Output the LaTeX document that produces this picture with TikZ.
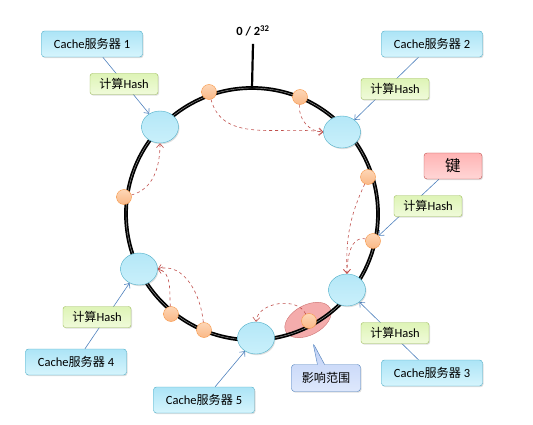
\documentclass[tikz,border=0pt]{standalone}
\usepackage{fontspec}
\setmainfont{Carlito}
\newfontfamily\cjk[Scale=0.97]{Noto Sans CJK SC}
\usetikzlibrary{arrows.meta, shapes.geometric, shapes.callouts, shadows, backgrounds}

\definecolor{cacheline}{RGB}{75,172,198}
\definecolor{cachetop}{RGB}{172,228,246}
\definecolor{cachebot}{RGB}{214,245,253}
\definecolor{hashline}{RGB}{155,187,89}
\definecolor{hashtop}{RGB}{222,244,182}
\definecolor{hashbot}{RGB}{240,251,218}
\definecolor{keyline}{RGB}{192,80,77}
\definecolor{keytop}{RGB}{255,180,180}
\definecolor{keybot}{RGB}{255,214,214}
\definecolor{rangefill}{RGB}{244,172,172}
\definecolor{dotline}{RGB}{247,150,70}
\definecolor{dottop}{RGB}{253,214,182}
\definecolor{dotbot}{RGB}{250,184,134}
\definecolor{linkblue}{RGB}{79,129,189}
\definecolor{moved}{RGB}{192,80,77}
\definecolor{notetop}{RGB}{190,208,246}
\definecolor{notebot}{RGB}{222,232,252}

\begin{document}
\begin{tikzpicture}[x=1pt, y=1pt,
        font=\fontsize{12.5}{14}\selectfont,
        shade/.style={drop shadow={shadow xshift=1pt, shadow yshift=-1.2pt, opacity=0.25}},
        cache/.style={rectangle, rounded corners=3pt, draw=cacheline, top color=cachetop, bottom color=cachebot, minimum width=101pt, minimum height=26pt, inner sep=1pt, shade},
        hash/.style={rectangle, rounded corners=2.5pt, draw=hashline, top color=hashtop, bottom color=hashbot, minimum width=68pt, minimum height=21pt, inner sep=1pt, shade},
        keybox/.style={rectangle, rounded corners=3pt, draw=keyline, top color=keytop, bottom color=keybot, minimum width=58pt, minimum height=26pt, inner sep=1pt, font=\fontsize{16}{18}\selectfont, shade},
        server/.style={ellipse, draw=cacheline, top color=cachetop!80!cachebot, bottom color=cachebot!70!cachetop, minimum width=37pt, minimum height=32pt, inner sep=0pt, shade},
        point/.style={circle, draw=dotline, top color=dottop, bottom color=dotbot, minimum size=15pt, inner sep=0pt},
        link/.style={draw=linkblue, line width=0.6pt, -{Straight Barb[length=4pt, width=7pt]}},
        remap/.style={draw=moved, dashed, line width=0.6pt, -{Straight Barb[length=4pt, width=7pt]}}
    ]
    \useasboundingbox (0,0) rectangle (533,-425);

    % Affected range (under the ring)
    \node[ellipse, draw=keyline!80, fill=rangefill, minimum width=50pt, minimum height=30pt, rotate=28] (range) at (308,-320) {};

    % Hash ring
    \coordinate (centre) at (252,-214);
    \draw[line width=1.7pt, double=black!35, double distance=0.4pt] (centre) circle (126);
    \coordinate (top) at (252,-88);
    \node[font=\bfseries\fontsize{12.5}{14}\selectfont] (zero) at (253,-31) {0 / 2\textsuperscript{32}};
    \draw[line width=2.2pt] (zero.south) ++(0,-4) coordinate (tick) (tick) -- (top);

    % Servers
    \node[server] (s1) at (160,-127) {};
    \node[server] (s2) at (342,-132) {};
    \node[server] (s3) at (347,-290) {};
    \node[server] (s4) at (139,-269) {};
    \node[server] (s5) at (256,-338) {};

    % Keys on the ring
    \node[point] (p1) at (209,-92) {};
    \node[point] (p2) at (300,-97) {};
    \node[point] (p3) at (368,-177) {};
    \node[point] (p4) at (373,-241) {};
    \node[point] (p5) at (309,-321) {};
    \node[point] (p6) at (204,-330) {};
    \node[point] (p7) at (171,-314) {};
    \node[point] (p8) at (124,-197) {};

    % Labels
    \node[cache] (c1) at (92,-44) {Cache{\cjk 服务器} 1};
    \node[cache] (c2) at (432,-44) {Cache{\cjk 服务器} 2};
    \node[cache] (c3) at (432,-373) {Cache{\cjk 服务器} 3};
    \node[cache] (c4) at (76,-362) {Cache{\cjk 服务器} 4};
    \node[cache] (c5) at (204,-400) {Cache{\cjk 服务器} 5};
    \node[hash] (h1) at (124,-84) {{\cjk 计算}Hash};
    \node[hash] (h2) at (395,-89) {{\cjk 计算}Hash};
    \node[hash] (h3) at (428,-206) {{\cjk 计算}Hash};
    \node[hash] (h4) at (97,-317) {{\cjk 计算}Hash};
    \node[hash] (h5) at (395,-333) {{\cjk 计算}Hash};
    \node[keybox] (key) at (453,-166) {{\cjk 键}};
    \node[rectangle callout, rounded corners=3pt, draw=linkblue, top color=notetop, bottom color=notebot, minimum width=69pt, minimum height=27pt, inner sep=1pt, callout absolute pointer={(313,-343)}, shade] (note) at (326,-378) {{\cjk 影响范围}};

    % Hashing onto the ring
    \begin{scope}[on background layer]
        \draw[link] (c1) -- (s1);
        \draw[link] (c2) -- (s2);
        \draw[link] (c3) -- (s3);
        \draw[link] (c4) -- (s4);
        \draw[link] (c5) -- (s5);
        \draw[link] (key) -- (p4);
    \end{scope}

    % Keys go to the next server clockwise
    \draw[remap] (p1) to[out=-75, in=172] (s2.west);
    \draw[remap] (p2) to[out=-95, in=180] (s2.west);
    \draw[remap] (p3) to[out=-115, in=92] (s3.north);
    \draw[remap] (p4) to[out=165, in=90] (s3.north);
    \draw[remap] (p5) to[out=115, in=85] (s5.north);
    \draw[remap] (p6) to[out=95, in=15] (s4.east);
    \draw[remap] (p7) to[out=95, in=-15] (s4.east);
    \draw[remap] (p8) to[out=15, in=-90] (s1.south);
\end{tikzpicture}
\end{document}
